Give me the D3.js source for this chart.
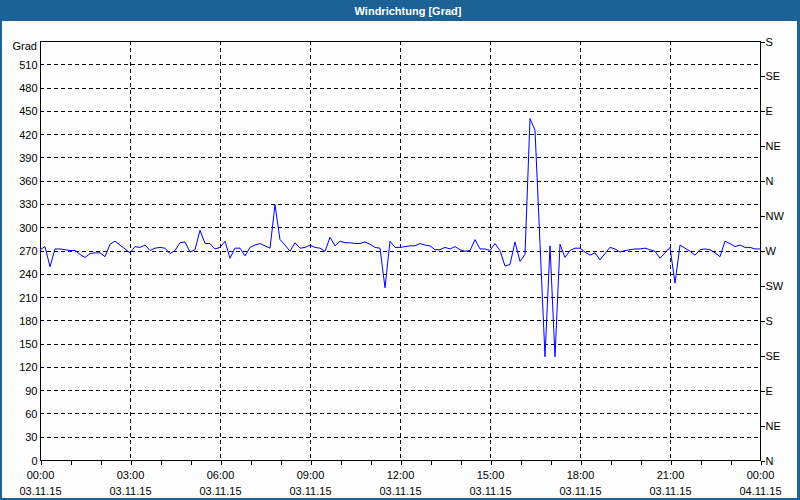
<!DOCTYPE html>
<html>
<head>
<meta charset="utf-8">
<script src="https://cdn.jsdelivr.net/npm/d3@7"></script>
<style>
  body { margin: 0; background: #fff; }
  svg text { font-family: "Liberation Sans", Arial, sans-serif; font-size: 11px; fill: #000; }
</style>
</head>
<body>
<svg id="chart"></svg>
<script>
  // Windrichtung, 10-Minuten-Werte 03.11.15 00:00 - 04.11.15 00:00
  const startTime = new Date(2015, 10, 3, 0, 0);
  const endTime = new Date(2015, 10, 4, 0, 0);
  const stepMinutes = 10;
  const windDir = [
    271, 275, 249, 272, 272, 271, 270, 270, 265, 261, 266, 267, 267, 262, 278, 282, 277, 272,
    267, 275, 274, 277, 270, 273, 274, 273, 266, 270, 280, 281, 268, 271, 296, 279, 279, 272,
    274, 282, 260, 273, 273, 263, 274, 277, 279, 276, 273, 329, 284, 277, 269, 280, 273, 274,
    277, 274, 273, 269, 287, 276, 282, 280, 280, 279, 279, 281, 278, 274, 273, 222, 282, 274,
    274, 275, 276, 276, 279, 277, 276, 271, 271, 274, 272, 275, 271, 269, 270, 284, 272, 272,
    270, 279, 270, 250, 252, 281, 256, 265, 440, 425, 279, 133, 276, 133, 278, 261, 270, 273,
    273, 268, 264, 267, 258, 266, 274, 272, 268, 270, 271, 272, 272, 273, 271, 269, 260, 267,
    274, 228, 277, 273, 269, 264, 271, 272, 271, 267, 262, 282, 279, 275, 277, 274, 274, 272,
    272
  ];
  const yTicks = [0, 30, 60, 90, 120, 150, 180, 210, 240, 270, 300, 330, 360, 390, 420, 450, 480, 510];
  const compassTicks = [0, 45, 90, 135, 180, 225, 270, 315, 360, 405, 450, 495, 540];
  const compassLabels = ["N", "NE", "E", "SE", "S", "SW", "W", "NW", "N", "NE", "E", "SE", "S"];
  const xLabelHours = [0, 3, 6, 9, 12, 15, 18, 21, 24];

  const width = 800, height = 500;
  const pLeft = 40, pRight = 760, pTop = 41, pBottom = 460;

  const svg = d3.select("#chart").attr("width", width).attr("height", height);

  // Rahmen + Titelleiste
  svg.append("rect").attr("width", width).attr("height", height).attr("fill", "#1d6296");
  svg.append("rect").attr("x", 2).attr("y", 21).attr("width", 795).attr("height", 477).attr("fill", "#fcfdfc");
  svg.append("text")
    .attr("x", 408).attr("y", 15)
    .attr("text-anchor", "middle")
    .style("font-weight", "bold")
    .style("fill", "#fff")
    .text("Windrichtung [Grad]");

  const x = d3.scaleTime().domain([startTime, endTime]).range([pLeft, pRight]);
  const y = d3.scaleLinear().domain([0, 540]).range([pBottom, pTop]);

  const data = windDir.map((v, i) => ({ t: d3.timeMinute.offset(startTime, i * stepMinutes), v: v }));

  // Gitter
  const grid = svg.append("g")
    .attr("stroke", "#000")
    .attr("stroke-dasharray", "4,3")
    .attr("shape-rendering", "crispEdges");
  grid.selectAll("line.h")
    .data(yTicks.filter(d => d > 0))
    .join("line")
    .attr("class", "h")
    .attr("x1", pLeft).attr("x2", pRight)
    .attr("y1", d => Math.round(y(d)) + 0.5).attr("y2", d => Math.round(y(d)) + 0.5);
  grid.selectAll("line.v")
    .data(xLabelHours.slice(1, -1))
    .join("line")
    .attr("class", "v")
    .attr("x1", d => Math.round(x(d3.timeHour.offset(startTime, d))) + 0.5)
    .attr("x2", d => Math.round(x(d3.timeHour.offset(startTime, d))) + 0.5)
    .attr("y1", pTop).attr("y2", pBottom);

  // Achsen
  const xAxis = svg.append("g")
    .attr("transform", `translate(0.5,${pBottom + 0.5})`)
    .call(d3.axisBottom(x).ticks(d3.timeHour.every(1)).tickSize(4).tickFormat(""));
  xAxis.select(".domain").attr("d", `M${pLeft},0H${pRight}`);

  const yAxis = svg.append("g")
    .attr("transform", `translate(${pLeft + 0.5},0.5)`)
    .call(d3.axisLeft(y).tickValues(yTicks).tickSize(0).tickPadding(3));
  yAxis.select(".domain").attr("d", `M0,${pTop}V${pBottom}`);

  const rAxis = svg.append("g")
    .attr("transform", `translate(${pRight + 0.5},0.5)`)
    .call(d3.axisRight(y).tickValues(compassTicks).tickSize(4).tickPadding(1)
      .tickFormat((d, i) => compassLabels[i]));
  rAxis.select(".domain").attr("d", `M0,${pTop}V${pBottom}`);

  svg.selectAll("g .domain, g .tick line").attr("stroke", "#000").attr("shape-rendering", "crispEdges");
  svg.selectAll("g .tick text").style("font-size", "11px").style("font-family", "'Liberation Sans', Arial, sans-serif").attr("fill", "#000");

  svg.append("line")
    .attr("x1", pLeft).attr("x2", pRight + 1)
    .attr("y1", pTop + 0.5).attr("y2", pTop + 0.5)
    .attr("stroke", "#000").attr("shape-rendering", "crispEdges");

  svg.append("text").attr("x", 37).attr("y", 50).attr("text-anchor", "end").text("Grad");

  // Zeitbeschriftung
  const fmtTime = d3.timeFormat("%H:%M");
  const fmtDate = d3.timeFormat("%d.%m.%y");
  const xl = svg.append("g").selectAll("g")
    .data(xLabelHours.map(h => d3.timeHour.offset(startTime, h)))
    .join("g")
    .attr("transform", d => `translate(${x(d) + 0.5},0)`);
  xl.append("text").attr("y", 479).attr("text-anchor", "middle").text(d => fmtTime(d));
  xl.append("text").attr("y", 495).attr("text-anchor", "middle").text(d => fmtDate(d));

  // Messwerte
  const line = d3.line().x(d => x(d.t)).y(d => y(d.v));
  svg.append("path")
    .datum(data)
    .attr("fill", "none")
    .attr("stroke", "#0000ff")
    .attr("stroke-width", 1)
    .attr("d", line);
</script>
</body>
</html>
